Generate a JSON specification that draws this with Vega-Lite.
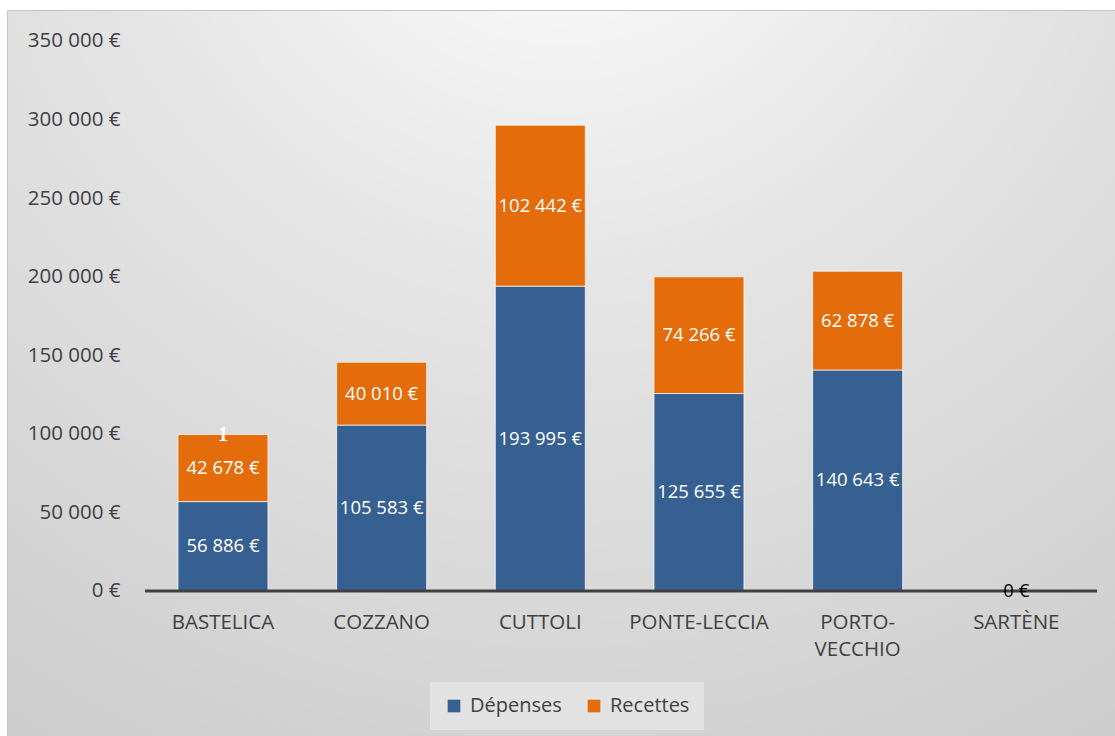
{
  "$schema": "https://vega.github.io/schema/vega-lite/v6.json",
  "width": 1108,
  "height": 726,
  "autosize": {"type": "none"},
  "padding": {"left": 7, "top": 10, "right": 0, "bottom": 0},
  "background": "#ffffff",
  "config": {
    "locale": {"number": {"decimal": ",", "thousands": " ", "grouping": [3], "currency": ["", " €"]}},
    "font": "Open Sans",
    "view": {
      "stroke": "#c4c4c4",
      "strokeWidth": 1,
      "fill": {
        "gradient": "radial",
        "x1": 0.5, "y1": 0.0, "r1": 0,
        "x2": 0.5, "y2": 0.0, "r2": 1.15,
        "stops": [
          {"offset": 0, "color": "#ffffff"},
          {"offset": 0.35, "color": "#e6e6e6"},
          {"offset": 1, "color": "#c4c4c4"}
        ]
      }
    }
  },
  "datasets": {
    "budget": [
      {"commune": "BASTELICA", "serie": "Dépenses", "montant": 56886},
      {"commune": "BASTELICA", "serie": "Recettes", "montant": 42678},
      {"commune": "COZZANO", "serie": "Dépenses", "montant": 105583},
      {"commune": "COZZANO", "serie": "Recettes", "montant": 40010},
      {"commune": "CUTTOLI", "serie": "Dépenses", "montant": 193995},
      {"commune": "CUTTOLI", "serie": "Recettes", "montant": 102442},
      {"commune": "PONTE-LECCIA", "serie": "Dépenses", "montant": 125655},
      {"commune": "PONTE-LECCIA", "serie": "Recettes", "montant": 74266},
      {"commune": "PORTO-VECCHIO", "serie": "Dépenses", "montant": 140643},
      {"commune": "PORTO-VECCHIO", "serie": "Recettes", "montant": 62878},
      {"commune": "SARTÈNE", "serie": "Dépenses", "montant": 0},
      {"commune": "SARTÈNE", "serie": "Recettes", "montant": 0}
    ],
    "note": [
      {"commune": "BASTELICA", "total": 99564, "texte": "1"}
    ]
  },
  "data": {"name": "budget"},
  "encoding": {
    "x": {
      "field": "commune",
      "type": "nominal",
      "sort": null,
      "scale": {"paddingInner": 0.433, "paddingOuter": 0.708, "align": 0.761, "round": false},
      "axis": {
        "title": null,
        "orient": "bottom",
        "offset": -145,
        "domain": false,
        "ticks": false,
        "grid": false,
        "labelAngle": 0,
        "labelPadding": 21,
        "labelFontSize": 20.5,
        "labelFont": "Open Sans",
        "labelColor": "#404040",
        "labelLineHeight": 27,
        "labelExpr": "datum.value == 'PORTO-VECCHIO' ? ['PORTO-', 'VECCHIO'] : datum.value"
      }
    }
  },
  "layer": [
    {
      "mark": {"type": "bar", "stroke": "#ffffff", "strokeWidth": 1, "strokeOpacity": 0.7},
      "encoding": {
        "y": {
          "field": "montant",
          "type": "quantitative",
          "stack": "zero",
          "scale": {"domain": [-92273, 369727], "nice": false, "zero": false},
          "axis": {
            "title": null,
            "values": [0, 50000, 100000, 150000, 200000, 250000, 300000, 350000],
            "format": "$,.0f",
            "offset": -137,
            "domain": false,
            "ticks": false,
            "grid": false,
            "labelPadding": 24,
            "labelFontSize": 20.5,
            "labelFont": "Open Sans",
            "labelColor": "#404040"
          }
        },
        "color": {
          "field": "serie",
          "type": "nominal",
          "sort": ["Dépenses", "Recettes"],
          "scale": {"domain": ["Dépenses", "Recettes"], "range": ["#376092", "#E46C0A"]},
          "legend": {
            "title": null,
            "orient": "none",
            "legendX": 423,
            "legendY": 672,
            "direction": "horizontal",
            "symbolType": "square",
            "symbolSize": 160,
            "symbolStrokeWidth": 0,
            "labelFontSize": 20,
            "labelFont": "Open Sans",
            "labelColor": "#404040",
            "fillColor": "#e2e2e2",
            "padding": 14,
            "columnPadding": 22,
            "labelOffset": 6
          }
        },
        "order": {"field": "serie", "sort": "ascending"}
      }
    },
    {
      "data": {"values": [{"axe": "0"}]},
      "mark": {"type": "rule", "color": "#404040", "strokeWidth": 3},
      "encoding": {
        "x": {"datum": "BASTELICA", "type": "nominal", "bandPosition": -0.367},
        "x2": {"datum": "SARTÈNE", "bandPosition": 1.397},
        "y": {"datum": 0, "type": "quantitative"}
      }
    },
    {
      "transform": [
        {"stack": "montant", "groupby": ["commune"], "sort": [{"field": "serie", "order": "ascending"}], "as": ["v0", "v1"]},
        {"filter": "datum.montant > 0 || datum.serie == 'Dépenses'"},
        {"fold": ["v0", "v1"], "as": ["bord", "pos"]}
      ],
      "mark": {"type": "text", "align": "center", "baseline": "middle", "fontSize": 18.5, "font": "Open Sans"},
      "encoding": {
        "y": {"aggregate": "mean", "field": "pos", "type": "quantitative", "title": null},
        "text": {"field": "montant", "type": "quantitative", "format": "$,.0f"},
        "detail": {"field": "serie", "type": "nominal"},
        "color": {"condition": {"test": "datum.montant == 0", "value": "#000000"}, "value": "#ffffff"}
      }
    },
    {
      "data": {"name": "note"},
      "mark": {"type": "text", "align": "center", "baseline": "middle", "fontSize": 20, "fontWeight": "bold", "font": "Liberation Serif", "color": "#ffffff"},
      "encoding": {
        "y": {"field": "total", "type": "quantitative", "title": null},
        "text": {"field": "texte", "type": "nominal"}
      }
    }
  ]
}
